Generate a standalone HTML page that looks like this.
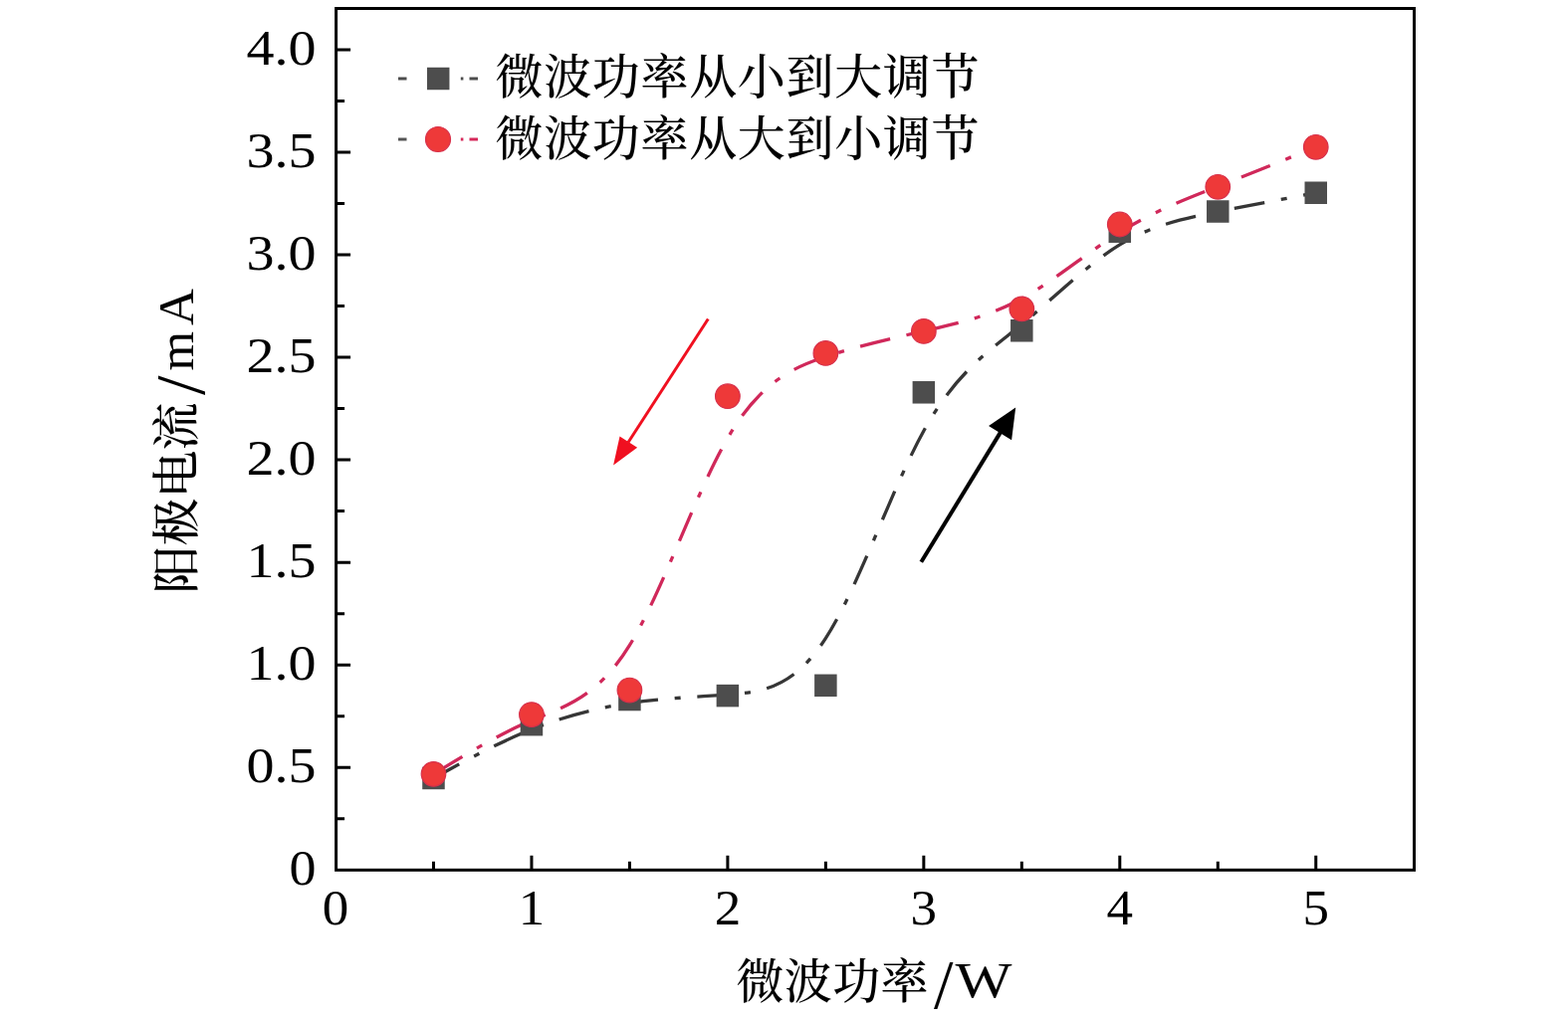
<!DOCTYPE html>
<html lang="zh"><head><meta charset="utf-8"><title>微波功率 阳极电流</title>
<style>html,body{margin:0;padding:0;background:#fff}body{width:1575px;height:1024px;overflow:hidden}svg{display:block}
.n{font-family:"Liberation Serif","Noto Serif CJK SC",serif;font-size:50.5px;fill:#000}
.c{font-family:"Liberation Serif","Noto Serif CJK SC",serif;font-size:48px;font-weight:500;fill:#000}
.l{font-family:"Liberation Serif","Noto Serif CJK SC",serif;font-size:51px;fill:#000}
</style></head><body>
<svg width="1575" height="1024" viewBox="0 0 1575 1024">
<rect x="0" y="0" width="1575" height="1024" fill="#fff"/>
<g stroke="#000" stroke-width="3" fill="none">
<rect x="337.60" y="8.50" width="1082.90" height="865.80"/>
<path d="M337.60 822.77h8.5M337.60 771.25h14.5M337.60 719.72h8.5M337.60 668.20h14.5M337.60 616.67h8.5M337.60 565.15h14.5M337.60 513.62h8.5M337.60 462.10h14.5M337.60 410.57h8.5M337.60 359.05h14.5M337.60 307.52h8.5M337.60 256.00h14.5M337.60 204.48h8.5M337.60 152.95h14.5M337.60 101.42h8.5M337.60 49.90h14.5M435.48 874.30v-8.5M533.95 874.30v-14.5M632.42 874.30v-8.5M730.90 874.30v-14.5M829.38 874.30v-8.5M927.85 874.30v-14.5M1026.32 874.30v-8.5M1124.80 874.30v-14.5M1223.28 874.30v-8.5M1321.75 874.30v-14.5"/>
</g>
<text class="n" x="317.6" y="889.0" text-anchor="end" textLength="27" lengthAdjust="spacingAndGlyphs">0</text>
<text class="n" x="317.6" y="786.0" text-anchor="end" textLength="70" lengthAdjust="spacingAndGlyphs">0.5</text>
<text class="n" x="317.6" y="682.9" text-anchor="end" textLength="70" lengthAdjust="spacingAndGlyphs">1.0</text>
<text class="n" x="317.6" y="579.9" text-anchor="end" textLength="70" lengthAdjust="spacingAndGlyphs">1.5</text>
<text class="n" x="317.6" y="476.8" text-anchor="end" textLength="70" lengthAdjust="spacingAndGlyphs">2.0</text>
<text class="n" x="317.6" y="373.7" text-anchor="end" textLength="70" lengthAdjust="spacingAndGlyphs">2.5</text>
<text class="n" x="317.6" y="270.7" text-anchor="end" textLength="70" lengthAdjust="spacingAndGlyphs">3.0</text>
<text class="n" x="317.6" y="167.6" text-anchor="end" textLength="70" lengthAdjust="spacingAndGlyphs">3.5</text>
<text class="n" x="317.6" y="64.6" text-anchor="end" textLength="70" lengthAdjust="spacingAndGlyphs">4.0</text>
<text class="n" x="337.0" y="929" text-anchor="middle" textLength="26.5" lengthAdjust="spacingAndGlyphs">0</text>
<text class="n" x="534.0" y="929" text-anchor="middle" textLength="26.5" lengthAdjust="spacingAndGlyphs">1</text>
<text class="n" x="730.9" y="929" text-anchor="middle" textLength="26.5" lengthAdjust="spacingAndGlyphs">2</text>
<text class="n" x="927.8" y="929" text-anchor="middle" textLength="26.5" lengthAdjust="spacingAndGlyphs">3</text>
<text class="n" x="1124.8" y="929" text-anchor="middle" textLength="26.5" lengthAdjust="spacingAndGlyphs">4</text>
<text class="n" x="1321.8" y="929" text-anchor="middle" textLength="26.5" lengthAdjust="spacingAndGlyphs">5</text>
<path d="M435.47 781.97C435.48 781.97 435.48 781.97 451.89 773.00C468.30 764.04 501.12 746.11 533.95 732.95C566.77 719.79 599.60 711.41 632.42 706.57C665.25 701.73 698.07 700.42 730.90 698.05C763.73 695.68 796.55 692.24 829.38 641.44C862.20 590.64 895.02 492.47 927.85 433.04C960.67 373.61 993.50 352.94 1026.33 326.01C1059.15 299.07 1091.97 265.89 1124.80 245.94C1157.62 225.98 1190.45 219.25 1223.28 212.75C1256.10 206.26 1288.92 200.01 1305.34 196.88C1321.75 193.76 1321.75 193.76 1321.75 193.76" fill="none" stroke="#363636" stroke-width="3.3" stroke-dasharray="31 16.75 6 16.75" stroke-dashoffset="1.5"/>
<path d="M435.47 777.85C435.48 777.85 435.48 777.85 451.89 767.88C468.30 757.92 501.12 738.00 533.95 723.95C566.77 709.90 599.60 701.73 632.42 648.41C665.25 595.10 698.07 496.66 730.90 440.22C763.73 383.78 796.55 369.36 829.38 358.47C862.20 347.58 895.02 340.23 927.85 332.81C960.67 325.39 993.50 317.90 1026.33 300.00C1059.15 282.11 1091.97 253.80 1124.80 233.36C1157.62 212.93 1190.45 200.35 1223.28 187.40C1256.10 174.45 1288.92 161.13 1305.34 154.46C1321.75 147.80 1321.75 147.80 1321.75 147.80" fill="none" stroke="#d0285a" stroke-width="3.3" stroke-dasharray="31 16.75 6 16.75" stroke-dashoffset="-3"/>
<rect x="424.23" y="770.72" width="22.5" height="22.5" fill="#4d4d4d"/>
<rect x="522.70" y="716.93" width="22.5" height="22.5" fill="#4d4d4d"/>
<rect x="621.17" y="691.78" width="22.5" height="22.5" fill="#4d4d4d"/>
<rect x="719.65" y="687.87" width="22.5" height="22.5" fill="#4d4d4d"/>
<rect x="818.12" y="677.56" width="22.5" height="22.5" fill="#4d4d4d"/>
<rect x="916.60" y="383.04" width="22.5" height="22.5" fill="#4d4d4d"/>
<rect x="1015.07" y="321.01" width="22.5" height="22.5" fill="#4d4d4d"/>
<rect x="1113.55" y="221.46" width="22.5" height="22.5" fill="#4d4d4d"/>
<rect x="1212.03" y="201.26" width="22.5" height="22.5" fill="#4d4d4d"/>
<rect x="1310.50" y="182.51" width="22.5" height="22.5" fill="#4d4d4d"/>
<circle cx="435.48" cy="777.85" r="12.3" fill="#ee3939" stroke="#d8304a" stroke-width="1.2"/>
<circle cx="533.95" cy="718.08" r="12.3" fill="#ee3939" stroke="#d8304a" stroke-width="1.2"/>
<circle cx="632.42" cy="693.55" r="12.3" fill="#ee3939" stroke="#d8304a" stroke-width="1.2"/>
<circle cx="730.90" cy="398.21" r="12.3" fill="#ee3939" stroke="#d8304a" stroke-width="1.2"/>
<circle cx="829.38" cy="354.93" r="12.3" fill="#ee3939" stroke="#d8304a" stroke-width="1.2"/>
<circle cx="927.85" cy="332.88" r="12.3" fill="#ee3939" stroke="#d8304a" stroke-width="1.2"/>
<circle cx="1026.32" cy="310.41" r="12.3" fill="#ee3939" stroke="#d8304a" stroke-width="1.2"/>
<circle cx="1124.80" cy="225.50" r="12.3" fill="#ee3939" stroke="#d8304a" stroke-width="1.2"/>
<circle cx="1223.28" cy="187.78" r="12.3" fill="#ee3939" stroke="#d8304a" stroke-width="1.2"/>
<circle cx="1321.75" cy="147.80" r="12.3" fill="#ee3939" stroke="#d8304a" stroke-width="1.2"/>
<path d="M400 79h8.5M462.8 79h2.6M471.5 79h8.5" stroke="#4d4d4d" stroke-width="3" fill="none"/>
<rect x="428.95" y="67.75" width="22.5" height="22.5" fill="#4d4d4d"/>
<path d="M400 140h8.5" stroke="#555" stroke-width="3" fill="none"/><path d="M462.8 140h2.6M471.5 140h8.5" stroke="#d6295a" stroke-width="3" fill="none"/>
<circle cx="440" cy="140" r="12.5" fill="#ee3939" stroke="#d8304a" stroke-width="1.2"/>
<text class="c" x="497.5" y="93.5" textLength="486" lengthAdjust="spacing">微波功率从小到大调节</text>
<text class="c" x="497.5" y="155.5" textLength="486" lengthAdjust="spacing">微波功率从大到小调节</text>
<path d="M711.30 320.50L630.23 445.77" stroke="#f01020" stroke-width="3" fill="none"/>
<path d="M616.10 467.60L622.50 438.39L640.13 449.80Z" fill="#f01020"/>
<path d="M925.30 564.80L1005.60 433.39" stroke="#000" stroke-width="4" fill="none"/>
<path d="M1020.20 409.50L1016.08 442.14L993.04 428.06Z" fill="#000"/>
<text class="c" x="739.5" y="1002.5" textLength="193" lengthAdjust="spacing">微波功率</text>
<text class="l" x="938" y="1013" style="font-size:70px">/</text>
<text class="l" x="959.5" y="1002" textLength="57" lengthAdjust="spacingAndGlyphs">W</text>
<g transform="translate(193.5,596.5) rotate(-90)">
<text class="c" x="0" y="0" textLength="192" lengthAdjust="spacing">阳极电流</text>
<text class="l" x="199.5" y="11" style="font-size:70px">/</text>
<text class="l" x="224" y="0">m</text>
<text class="l" x="269.5" y="0">A</text>
</g>
</svg></body></html>
